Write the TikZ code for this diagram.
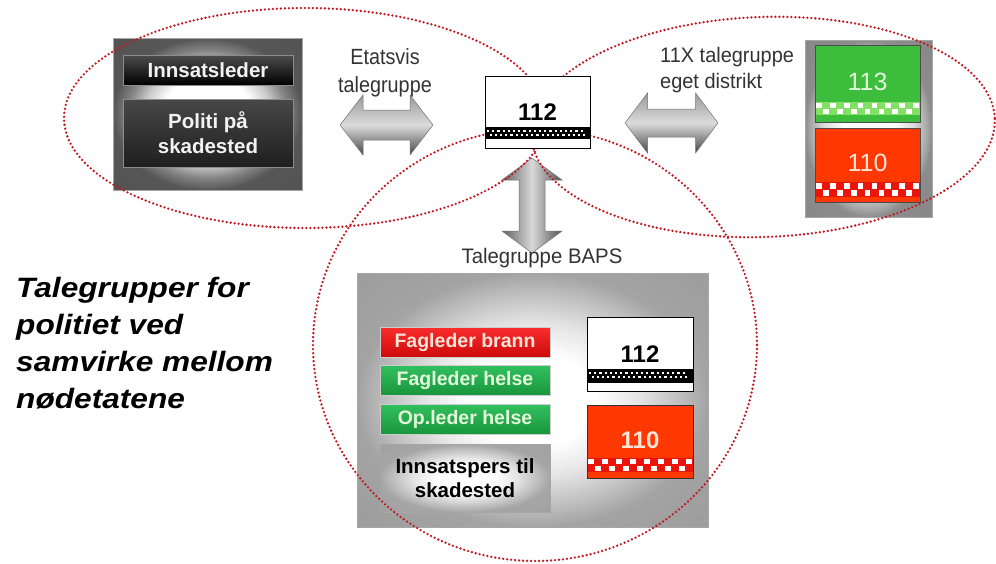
\documentclass[tikz,border=0pt]{standalone}
\usepackage{fontspec}
\setmainfont{Liberation Sans}
\definecolor{dotred}{RGB}{195,25,35}
\definecolor{tagred}{RGB}{255,55,0}
\definecolor{tagredband}{RGB}{235,20,10}
\definecolor{taggreen}{RGB}{60,190,60}
\definecolor{taggreenband}{RGB}{130,225,100}
\definecolor{btnredtop}{RGB}{250,45,45}
\definecolor{btnredbot}{RGB}{205,10,10}
\definecolor{btngreentop}{RGB}{50,192,95}
\definecolor{btngreenbot}{RGB}{25,150,60}
\definecolor{lighttxtgreen}{RGB}{228,248,220}
\definecolor{lighttxtred}{RGB}{255,228,215}
\pgfdeclareradialshading{framedark}{\pgfpoint{0bp}{0bp}}{color(0bp)=(white); color(12bp)=(white); color(17bp)=(black!22); color(21bp)=(black!48); color(25bp)=(black!66); color(50bp)=(black!70)}
\pgfdeclareradialshading{framemid}{\pgfpoint{0bp}{0bp}}{color(0bp)=(white); color(10bp)=(white); color(18bp)=(black!15); color(23bp)=(black!35); color(25bp)=(black!45); color(50bp)=(black!50)}
\pgfdeclareradialshading{framelight}{\pgfpoint{0bp}{0bp}}{color(0bp)=(white); color(9bp)=(white); color(15bp)=(black!10); color(22bp)=(black!28); color(25bp)=(black!36); color(50bp)=(black!42)}
\pgfdeclareradialshading{silverglow}{\pgfpoint{0bp}{0bp}}{color(0bp)=(white); color(8bp)=(white); color(15bp)=(black!10); color(25bp)=(black!35); color(50bp)=(black!40)}
\newcommand{\fsz}[2]{\fontsize{#1}{#2}\selectfont}
\newcommand{\dotband}[4]{%
  \fill[black] (#1,#2) rectangle (#3,#4);
  \pgfmathtruncatemacro{\ndots}{((#3)-(#1)-7)/5.2}%
  \foreach \i in {0,...,\ndots}{%
    \fill[white] ({#1+1.5+\i*5.2},{#2+2.5}) rectangle ++(2.2,2.2);
    \fill[white] ({#1+4.1+\i*5.2},{#2+7}) rectangle ++(2.2,2.2);
  }}
\newcommand{\ckband}[5]{%
  \fill[#5] (#1,#2) rectangle (#3,#4);
  \pgfmathsetmacro{\ckw}{((#3)-(#1))/15}%
  \pgfmathsetmacro{\ckh}{((#4)-(#2))/2}%
  \foreach \i in {0,2,...,14}{%
    \fill[white] ({#1+\i*\ckw+0.6},{#2+0.6}) rectangle ++({\ckw-1.2},{\ckh-1.2});}
  \foreach \i in {1,3,...,13}{%
    \fill[white] ({#1+\i*\ckw+0.6},{#2+\ckh+0.6}) rectangle ++({\ckw-1.2},{\ckh-1.2});}
}
\begin{document}
\begin{tikzpicture}[x=1pt,y=-1pt,
  ring/.style={draw=dotred, line width=2.6pt, line cap=round, dash pattern=on 0pt off 4pt},
  greyframe/.style={rectangle, draw=black!35, line width=0.6pt, inner sep=0pt, shade},
  darkbtn/.style={rectangle, draw=black!45, line width=0.6pt, inner sep=0pt, minimum width=170pt, text=black!5, font=\bfseries\fsz{20.5}{25}, align=center},
  colbtn/.style={rectangle, draw=black!20, line width=0.4pt, inner sep=0pt, minimum width=170pt, minimum height=30pt, font=\bfseries\fsz{19.5}{23}},
  tagbox/.style={rectangle, draw=black, line width=1pt, inner sep=0pt, minimum width=105pt},
  numtxt/.style={inner sep=0pt, anchor=base, font=\bfseries\fsz{24}{24}},
  lbl/.style={font=\fsz{21}{26}, text=black!80, inner sep=0pt, align=center},
  bigarrow/.style={draw=black!55, line width=0.5pt},
]
\useasboundingbox (0,0) rectangle (996,563);
\fill[white] (0,0) rectangle (996,563);

% ---- left frame
\node[greyframe, shading=framedark, minimum width=189pt, minimum height=152pt] (lframe) at (207.5,114) {};
\node[darkbtn, minimum height=30pt, top color=black!70, bottom color=black] (inns) at (208,70) {Innsatsleder};
\node[darkbtn, minimum height=68pt, top color=black!72, bottom color=black!88] (polt) at (208,133) {Politi på\\skadested};

% ---- right frame
\node[greyframe, shading=framemid, minimum width=127pt, minimum height=177pt] (rframe) at (868.5,128.5) {};
\node[tagbox, draw=black!70, fill=taggreen, minimum height=77pt] (g113) at (867.5,83.5) {};
\ckband{815.5}{102}{919.5}{115}{taggreenband}
\node[numtxt, font=\fsz{25}{25}, text=lighttxtgreen] (g113txt) at (867.5,90) {113};
\node[tagbox, draw=black!70, fill=tagred, minimum height=74pt] (r110) at (867.5,165) {};
\ckband{815.5}{182}{919.5}{197}{tagredband}
\node[numtxt, font=\fsz{25}{25}, text=lighttxtred] (r110txt) at (867.5,171) {110};

% ---- BAPS frame
\node[greyframe, shading=framelight, minimum width=351pt, minimum height=254pt] (bframe) at (532.5,400) {};
\node[colbtn, top color=btnredtop, bottom color=btnredbot, text=lighttxtred] (fbrann) at (465,342) {Fagleder brann};
\node[colbtn, top color=btngreentop, bottom color=btngreenbot, text=lighttxtgreen] (fhelse) at (465,380) {Fagleder helse};
\node[colbtn, top color=btngreentop, bottom color=btngreenbot, text=lighttxtgreen] (ophelse) at (465,419) {Op.leder helse};
\node[colbtn, minimum height=68pt, shade, shading=silverglow, text=black, draw=black!35, align=center, font=\bfseries\fsz{20.5}{24}] (inpers) at (465,478) {Innsatspers til\\skadested};
\node[tagbox, fill=white, minimum height=74pt, minimum width=106pt] (b112) at (640,354) {};
\dotband{587.5}{369}{692.5}{383}
\node[numtxt] (b112txt) at (640,362) {112};
\node[tagbox, draw=black!80, fill=tagred, minimum height=73pt, minimum width=106pt] (b110) at (640,441.5) {};
\ckband{587.5}{458}{692.5}{472}{tagredband}
\node[numtxt, text=lighttxtred] (b110txt) at (640,448) {110};

% ---- arrows
\coordinate (la) at (386.5,125);
\coordinate (ra) at (671.5,123);
\coordinate (va) at (532,205.5);
\shade[bigarrow, top color=black!40, bottom color=black!72, middle color=black!14, shift={(la)}]
  (-46.5,0) -- (-23.5,-30) -- (-23.5,-15) -- (23.5,-15) -- (23.5,-30) -- (46.5,0)
  -- (23.5,30) -- (23.5,15) -- (-23.5,15) -- (-23.5,30) -- cycle;
\shade[bigarrow, top color=black!40, bottom color=black!72, middle color=black!14, shift={(ra)}]
  (-46.5,0) -- (-24,-30) -- (-24,-14) -- (24,-14) -- (24,-30) -- (46.5,0)
  -- (24,30) -- (24,14) -- (-24,14) -- (-24,30) -- cycle;
\shade[bigarrow, left color=black!62, right color=black!68, middle color=black!15, shift={(va)}]
  (0,-47.5) -- (30,-25.5) -- (13,-25.5) -- (13,25.5) -- (30,25.5) -- (0,47.5)
  -- (-30,25.5) -- (-13,25.5) -- (-13,-25.5) -- (-30,-25.5) -- cycle;

% ---- labels
\node[lbl, anchor=north, xscale=0.9, font=\fsz{22}{28}] (etat) at (385,48) {Etatsvis\\talegruppe};
\node[lbl, anchor=north west, align=left, xscale=0.95] (elleve) at (660,47) {11X talegruppe\\eget distrikt};
\node[lbl, anchor=base, xscale=0.97] (baps) at (542,263) {Talegruppe BAPS};
\node[anchor=north west, align=left, inner sep=0pt, font=\bfseries\itshape\fsz{28}{37}, xscale=1.13] (title) at (16,277) {Talegrupper for\\politiet ved\\samvirke mellom\\nødetatene};

% ---- dotted rings
\draw[ring] (305,118) ellipse [x radius=241, y radius=110];
\draw[ring, rotate around={2:(763,127)}] (763,127) ellipse [x radius=232, y radius=110];
\draw[ring] (535,345) ellipse [x radius=222, y radius=216];

% ---- central 112 tag
\node[tagbox, fill=white, minimum height=72pt] (t112) at (537.5,112) {};
\dotband{485.5}{127}{589.5}{139}
\node[numtxt] (t112txt) at (537.5,120) {112};
\end{tikzpicture}
\end{document}
